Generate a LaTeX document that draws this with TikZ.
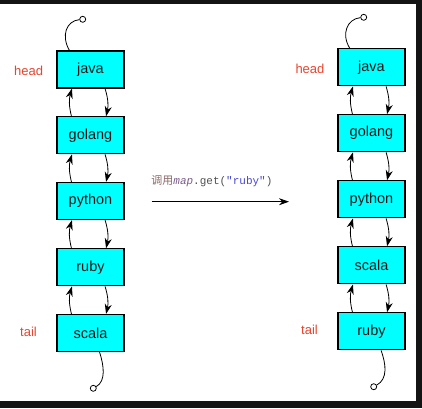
\documentclass[tikz,border=0pt]{standalone}
\usepackage{fontspec}
\setmainfont{Liberation Sans}
\setmonofont{Liberation Mono}
\newfontfamily\cjk{Noto Sans CJK SC}
\usetikzlibrary{arrows.meta,calc}
\definecolor{boxcyan}{HTML}{00FFFF}
\definecolor{lblred}{HTML}{E8452F}
\definecolor{cjkc}{HTML}{8A6A6A}
\definecolor{mapc}{HTML}{7A5A86}
\definecolor{codec}{HTML}{505050}
\definecolor{strc}{HTML}{4848D0}
\tikzset{
  elem/.style={draw=black,line width=1.1pt,fill=boxcyan,minimum width=67pt,minimum height=37pt,inner sep=0pt,font=\fontsize{14.5}{16}\selectfont,text=black!90},
  lbl/.style={text=lblred,font=\fontsize{13}{15}\selectfont,inner sep=0pt},
  lnk/.style={draw=black,line width=0.8pt,-{Stealth[length=10pt,width=7pt]}},
  tailline/.style={draw=black,line width=0.8pt},
  endc/.style={circle,draw=black,line width=0.8pt,fill=white,inner sep=0pt,minimum size=6pt}
}
\begin{document}
\begin{tikzpicture}[x=1pt,y=-1pt]
\useasboundingbox (0,0) rectangle (422,408);
\fill[black!92] (0,0) rectangle (422,408);
\fill[white] (0,4) rectangle (416,401);
% left list
\node[elem] (a1) at (90.5,69.5) {java};
\node[elem] (a2) at (90.5,135.3) {golang};
\node[elem] (a3) at (90.5,201) {python};
\node[elem] (a4) at (90.5,267.3) {ruby};
\node[elem] (a5) at (90.5,333) {scala};
% right list
\node[elem] (b1) at (371.5,67.3) {java};
\node[elem] (b2) at (371.5,133.2) {golang};
\node[elem] (b3) at (371.5,199.3) {python};
\node[elem] (b4) at (371.5,265.3) {scala};
\node[elem] (b5) at (371.5,331.3) {ruby};
% labels
\node[lbl,anchor=west] (h1) at (14,70.7) {head};
\node[lbl,anchor=west] (t1) at (20,331.7) {tail};
\node[lbl,anchor=west] (h2) at (295.3,68.7) {head};
\node[lbl,anchor=west] (t2) at (301,329.7) {tail};
% links
\foreach \u/\l in {a1/a2,a2/a3,a3/a4,a4/a5,b1/b2,b2/b3,b3/b4,b4/b5}{
  \draw[lnk] ([xshift=15pt]\l.north west) to[bend left=15] ([xshift=15.5pt]\u.south west);
  \draw[lnk] ([xshift=-19.5pt]\u.south east) to[bend left=15] ([xshift=-18.5pt]\l.north east);
}
% end circles
\node[endc] (c1) at (82.7,19.3) {};
\node[endc] (c2) at (93.3,388.3) {};
\node[endc] (c3) at (363.7,17.3) {};
\node[endc] (c4) at (373.7,386.7) {};
\draw[tailline] ([xshift=13pt]a1.north west) .. controls (61,36) and (66,21) .. (c1);
\draw[tailline] ([xshift=-25pt]a5.south east) .. controls (104,366) and (106,381) .. (c2);
\draw[tailline] ([xshift=12.3pt]b1.north west) .. controls (341,34) and (347,19) .. (c3);
\draw[tailline] ([xshift=-24.5pt]b5.south east) .. controls (386,364) and (388,379) .. (c4);
% middle arrow
\coordinate (m1) at (151.7,201.7);
\coordinate (m2) at (289,201.7);
\draw[line width=0.9pt,-{Stealth[length=10pt,width=7pt]}] (m1) -- (m2);
\node[anchor=west,inner sep=0pt,font=\fontsize{11}{13}\selectfont] (cap) at (151.2,180.7) {{\cjk\color{cjkc}调用}{\ttfamily\itshape\color{mapc}map}{\ttfamily\color{codec}.get(}{\ttfamily\color{strc}"ruby"}{\ttfamily\color{codec})}};
\end{tikzpicture}
\end{document}
